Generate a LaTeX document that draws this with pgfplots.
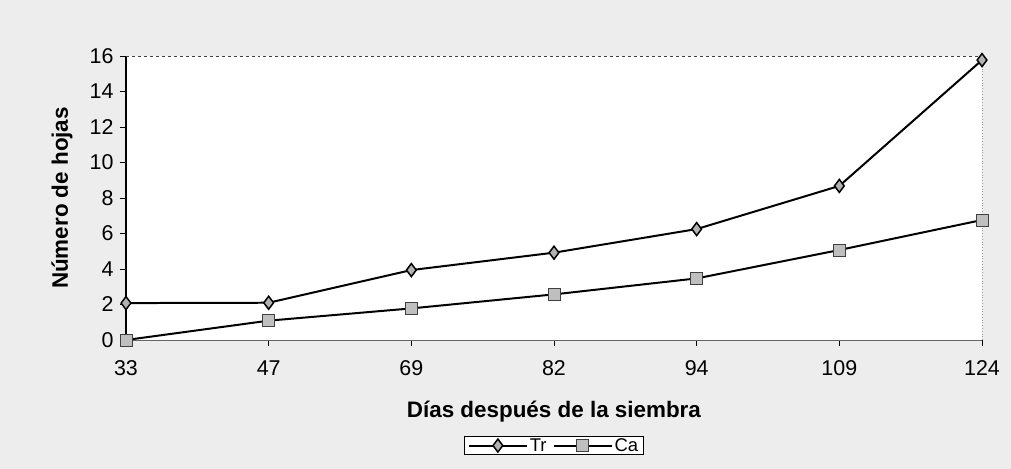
\documentclass[border=0pt]{standalone}
\usepackage{fontspec}
\setmainfont{Liberation Sans}
\usepackage{pgfplots}
\pgfplotsset{compat=1.18}
\begin{document}
\begin{tikzpicture}
\fill[black!7] (-126bp,-129bp) rectangle (885bp,340bp);
\useasboundingbox (-126bp,-129bp) rectangle (885bp,340bp);
\begin{axis}[
  at={(0,0)}, anchor=south west,
  scale only axis, width=856bp, height=284bp,
  xmin=0, xmax=6, ymin=0, ymax=16,
  xtick={0,1,2,3,4,5,6}, xticklabels={33,47,69,82,94,109,124},
  ytick={0,2,4,6,8,10,12,14,16},
  axis background/.style={fill=white},
  axis x line*=bottom, axis y line*=left,
  x axis line style={draw=gray!80!black, thin, -},
  y axis line style={draw=black, line width=1.4pt, -},
  tick align=outside,
  major tick length=6bp,
  tick style={black, thin},
  /pgf/number format/assume math mode=true,
  tick label style={font=\fontsize{21.5}{24}\selectfont},
  xticklabel style={yshift=-11bp},
  yticklabel style={xshift=-3bp},
  xlabel={\textbf{Días después de la siembra}},
  ylabel={\textbf{Número de hojas}},
  label style={font=\fontsize{22.5}{26}\selectfont},
  xlabel style={at={(axis description cs:0.5,-0.253)}, anchor=center},
  ylabel style={at={(axis description cs:-0.0748,0.5)}, anchor=center},
  legend style={at={(axis description cs:0.5,-0.338)}, anchor=north,
    draw=black, fill=white, font=\fontsize{18.5}{20}\selectfont,
    inner xsep=3bp, inner ysep=0bp, line width=0.8pt},
  legend columns=2,
  legend cell align=left,
  legend image code/.code={%
    \draw[mark repeat=2,mark phase=2,#1] plot coordinates {(0bp,0bp) (29bp,0bp) (58bp,0bp)};},
  /tikz/every even column/.append style={column sep=4bp},
  clip=false,
]
\addplot[black, line width=2pt, mark=diamond*, mark size=6.5bp,
  mark options={fill=gray!60, draw=black, line width=1.5pt}]
  coordinates {(0,2.08) (1,2.1) (2,3.94) (3,4.92) (4,6.25) (5,8.68) (6,15.77)};
\addlegendentry{Tr}
\addplot[black, line width=2pt, mark=square*, mark size=6bp,
  mark options={fill=gray!50, draw=black!75, line width=1pt}]
  coordinates {(0,0) (1,1.09) (2,1.78) (3,2.57) (4,3.47) (5,5.07) (6,6.76)};
\addlegendentry{Ca}
\draw[black!75, dashed, line width=0.9pt] (rel axis cs:0,1) -- (rel axis cs:1,1);
\draw[black!40, dotted, line width=0.8pt] (rel axis cs:1,0) -- (rel axis cs:1,1);
\end{axis}
\end{tikzpicture}
\end{document}
